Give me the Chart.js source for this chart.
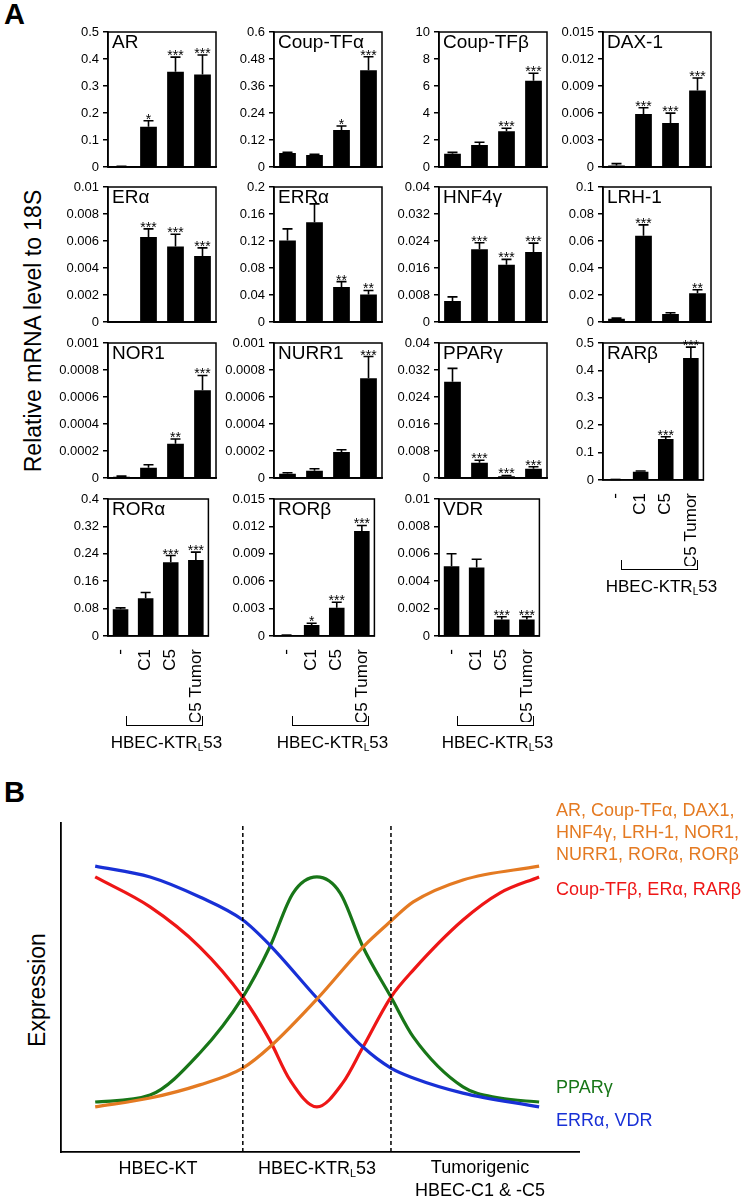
<!DOCTYPE html>
<html>
<head>
<meta charset="utf-8">
<script src="https://cdn.jsdelivr.net/npm/chart.js@4.4.0/dist/chart.umd.min.js"></script>
<style>
  body { margin: 0; width: 756px; height: 1200px; position: relative; background: #fff; overflow: hidden;
         font-family: 'Liberation Sans', Arial, sans-serif; color: #000; }
  canvas { position: absolute; }
  .t { position: absolute; white-space: nowrap; line-height: 1; }
  .rot { transform: translate(-50%, -50%) rotate(-90deg); }
  .mid { transform: translate(-50%, -50%); }
  .br { position: absolute; border: 1.5px solid #000; border-top: none; box-sizing: border-box; }
  sub { font-size: 0.6em; vertical-align: -0.3em; line-height: 0; }
  .panel { position: absolute; font-weight: bold; font-size: 29px; }
</style>
</head>
<body>

<div class="panel" style="left:4px;top:-2px">A</div>
<div class="panel" style="left:4px;top:776px">B</div>
<div class="t rot" style="left:33px;top:331px;font-size:23px">Relative mRNA level to 18S</div>

<script>
// SETUP BLOCK - panel A, mean and top of error bar for each group

const groups = ['-', 'C1', 'C5', 'C5 Tumor'];
const genes = ['AR', 'Coup-TFα', 'Coup-TFβ', 'DAX-1', 'ERα', 'ERRα', 'HNF4γ', 'LRH-1',
               'NOR1', 'NURR1', 'PPARγ', 'RARβ', 'RORα', 'RORβ', 'VDR'];
const yMax  = [0.5, 0.6, 10, 0.015, 0.01, 0.2, 0.04, 0.1, 0.001, 0.001, 0.04, 0.5, 0.4, 0.015, 0.01];
const yStep = [0.1, 0.12, 2, 0.003, 0.002, 0.04, 0.008, 0.02, 0.0002, 0.0002, 0.008, 0.1, 0.08, 0.003, 0.002];

const AR = [0.002, 0.15, 0.353, 0.343];
const AR_err = [0.003, 0.172, 0.407, 0.415];
const AR_sig = ['', '*', '***', '***'];

const CoupTFa = [0.063, 0.054, 0.165, 0.43];
const CoupTFa_err = [0.066, 0.057, 0.183, 0.49];
const CoupTFa_sig = ['', '', '*', '***'];

const CoupTFb = [1.0, 1.65, 2.65, 6.4];
const CoupTFb_err = [1.1, 1.85, 2.88, 6.95];
const CoupTFb_sig = ['', '', '***', '***'];

const DAX1 = [0.0002, 0.0059, 0.0049, 0.0085];
const DAX1_err = [0.0004, 0.0066, 0.006, 0.0099];
const DAX1_sig = ['', '***', '***', '***'];

const ERa = [0, 0.0063, 0.0056, 0.0049];
const ERa_err = [0, 0.0069, 0.0065, 0.0055];
const ERa_sig = ['', '***', '***', '***'];

const ERRa = [0.121, 0.148, 0.052, 0.041];
const ERRa_err = [0.138, 0.175, 0.06, 0.047];
const ERRa_sig = ['', '', '**', '**'];

const HNF4g = [0.0063, 0.0216, 0.017, 0.0208];
const HNF4g_err = [0.0075, 0.0235, 0.0186, 0.0234];
const HNF4g_sig = ['', '***', '***', '***'];

const LRH1 = [0.0025, 0.064, 0.006, 0.0215];
const LRH1_err = [0.003, 0.072, 0.007, 0.024];
const LRH1_sig = ['', '***', '', '**'];

const NOR1 = [0.00001, 0.000077, 0.000255, 0.00065];
const NOR1_err = [0.000015, 0.0001, 0.00029, 0.00076];
const NOR1_sig = ['', '', '**', '***'];

const NURR1 = [0.000033, 0.000055, 0.000193, 0.00074];
const NURR1_err = [0.00004, 0.00007, 0.00021, 0.0009];
const NURR1_sig = ['', '', '', '***'];

const PPARg = [0.0285, 0.0046, 0.0006, 0.0028];
const PPARg_err = [0.0325, 0.0053, 0.0008, 0.0034];
const PPARg_sig = ['', '***', '***', '***'];

const RARb = [0.002, 0.03, 0.15, 0.445];
const RARb_err = [0.002, 0.033, 0.158, 0.485];
const RARb_sig = ['', '', '***', '***'];

const RORa = [0.078, 0.11, 0.215, 0.222];
const RORa_err = [0.082, 0.127, 0.235, 0.245];
const RORa_sig = ['', '', '***', '***'];

const RORb = [0.0001, 0.0012, 0.0031, 0.0115];
const RORb_err = [0.0001, 0.0014, 0.0037, 0.0121];
const RORb_sig = ['', '*', '***', '***'];

const VDR = [0.0051, 0.005, 0.0012, 0.0012];
const VDR_err = [0.006, 0.0056, 0.0014, 0.0014];
const VDR_sig = ['', '', '***', '***'];

const means = [AR, CoupTFa, CoupTFb, DAX1, ERa, ERRa, HNF4g, LRH1, NOR1, NURR1, PPARg, RARb, RORa, RORb, VDR];
const tops  = [AR_err, CoupTFa_err, CoupTFb_err, DAX1_err, ERa_err, ERRa_err, HNF4g_err, LRH1_err,
               NOR1_err, NURR1_err, PPARg_err, RARb_err, RORa_err, RORb_err, VDR_err];
const sigs  = [AR_sig, CoupTFa_sig, CoupTFb_sig, DAX1_sig, ERa_sig, ERRa_sig, HNF4g_sig, LRH1_sig,
               NOR1_sig, NURR1_sig, PPARg_sig, RARb_sig, RORa_sig, RORb_sig, VDR_sig];

// panel B - schematic expression curves (x: 0-100 along the stages, y: 0-100)
const stageLines = [35.1, 63.7];
const blueX   = [6.6, 17.2, 26.8, 35.1, 40.3, 49.4, 58.3, 63.7, 68.0, 77.6, 92.3];
const blueY   = [86.9, 83.6, 77.5, 70.5, 62.9, 46.8, 31.9, 25.5, 22.5, 17.9, 13.7];
const orangeX = [6.6, 17.2, 26.8, 35.1, 40.3, 49.6, 58.3, 63.7, 68.0, 77.6, 92.3];
const orangeY = [13.7, 16.4, 20.4, 25.5, 31.9, 46.8, 62.3, 70.2, 76.0, 82.7, 86.9];
const redX    = [6.6, 17.2, 26.8, 35.1, 40.3, 44.2, 49.4, 54.4, 58.3, 63.7, 68.0, 77.6, 84.7, 92.3];
const redY    = [83.6, 74.5, 62.3, 47.1, 34.0, 21.9, 13.7, 21.0, 31.9, 47.1, 55.3, 70.5, 78.7, 83.6];
const greenX  = [6.6, 17.2, 26.8, 35.1, 40.3, 44.8, 49.4, 53.9, 58.3, 63.7, 68.0, 77.6, 84.7, 92.3];
const greenY  = [15.2, 17.3, 30.1, 47.1, 62.3, 78.7, 83.6, 78.7, 62.3, 47.1, 35.0, 19.8, 16.4, 15.2];

const FONT = "'Liberation Sans', Arial, sans-serif";

// layout of the small multiples
const colLeft = [108, 274, 439, 603];
const rowTop = [32, 187, 343, 499];
const PW = 108, PH = 137, YW = 56, PADT = 12;
const labelled = [11, 12, 13, 14];

// box, title, error bars and stars
const barExtras = {
  id: 'barExtras',
  afterDatasetsDraw(chart) {
    const { ctx, chartArea: a, scales: { y } } = chart;
    const ds = chart.data.datasets[0];
    const meta = chart.getDatasetMeta(0);
    ctx.save();
    ctx.strokeStyle = '#000';
    ctx.fillStyle = '#000';
    ctx.lineWidth = 1.5;
    ctx.strokeRect(a.left, a.top, a.right - a.left, a.bottom - a.top);

    ctx.lineWidth = 1.6;
    meta.data.forEach((bar, k) => {
      const yt = y.getPixelForValue(ds.err[k]);
      if (ds.err[k] > 0) {
        ctx.beginPath();
        ctx.moveTo(bar.x, bar.y);
        ctx.lineTo(bar.x, yt);
        ctx.moveTo(bar.x - 5, yt);
        ctx.lineTo(bar.x + 5, yt);
        ctx.stroke();
      }
      if (ds.sig[k]) {
        ctx.font = '14px ' + FONT;
        ctx.textAlign = 'center';
        ctx.textBaseline = 'alphabetic';
        ctx.fillText(ds.sig[k], bar.x, yt + 3);
      }
    });

    ctx.font = '19px ' + FONT;
    ctx.textAlign = 'left';
    ctx.textBaseline = 'top';
    ctx.fillText(ds.label, a.left + 4, a.top + 1);
    ctx.restore();
  }
};

function addBarChart(i) {
  const col = i % 4, row = Math.floor(i / 4);
  const hasLabels = labelled.includes(i);
  const xh = hasLabels ? 86 : 0;
  const cv = document.createElement('canvas');
  const w = YW + PW + 6, h = PADT + PH + xh + 10;
  cv.width = w; cv.height = h;
  cv.style.left = (colLeft[col] - YW) + 'px';
  cv.style.top = (rowTop[row] - PADT) + 'px';
  cv.style.width = w + 'px'; cv.style.height = h + 'px';
  document.body.appendChild(cv);

  new Chart(cv, {
    type: 'bar',
    data: {
      labels: groups,
      datasets: [{
        label: genes[i],
        data: means[i],
        err: tops[i],
        sig: sigs[i],
        backgroundColor: '#000',
        borderWidth: 0,
        categoryPercentage: 1,
        barPercentage: 0.62
      }]
    },
    options: {
      responsive: false,
      animation: false,
      layout: { padding: { top: PADT, right: 6, bottom: 10, left: 0 } },
      plugins: { legend: { display: false }, tooltip: { enabled: false } },
      scales: {
        x: {
          grid: { display: false },
          border: { color: '#000', width: 1.5 },
          ticks: { display: hasLabels, color: '#000', font: { size: 17, family: FONT },
                   minRotation: 90, maxRotation: 90, autoSkip: false, padding: 5 },
          afterFit: s => { s.height = xh; }
        },
        y: {
          min: 0, max: yMax[i],
          ticks: { stepSize: yStep[i], color: '#000', font: { size: 13, family: FONT }, padding: 4,
                   callback: v => String(parseFloat(v.toFixed(6))) },
          grid: { drawOnChartArea: false, drawTicks: true, tickLength: 5, color: '#000', lineWidth: 1.5 },
          border: { color: '#000', width: 1.5 },
          afterFit: s => { s.width = YW; }
        }
      }
    },
    plugins: [barExtras]
  });

  if (hasLabels) {
    // bracket under the rotated labels + cell line name
    const left = colLeft[col] + 18, right = colLeft[col] + 95;
    const by = rowTop[row] + PH + 89;
    const b = document.createElement('div');
    b.className = 'br';
    b.style.left = left + 'px'; b.style.top = (by - 9) + 'px';
    b.style.width = (right - left) + 'px'; b.style.height = '10px';
    document.body.appendChild(b);
    const t = document.createElement('div');
    t.className = 't mid';
    t.style.left = ((left + right) / 2 + 2) + 'px';
    t.style.top = (by + 17) + 'px';
    t.style.fontSize = '17px';
    t.innerHTML = 'HBEC-KTR<sub>L</sub>53';
    document.body.appendChild(t);
  }
}

for (let i = 0; i < genes.length; i++) addBarChart(i);

// PANEL B
const pts = (xs, ys) => xs.map((x, k) => ({ x, y: ys[k] }));
const cvB = document.createElement('canvas');
cvB.width = 538; cvB.height = 349;
cvB.style.left = '51px'; cvB.style.top = '813px';
cvB.style.width = '538px'; cvB.style.height = '349px';
document.body.appendChild(cvB);

const curve = (data, color) => ({ data, borderColor: color, borderWidth: 3.2, pointRadius: 0,
                                   cubicInterpolationMode: 'monotone', fill: false });
const dash = x => ({ data: [{ x, y: 0 }, { x, y: 100 }], borderColor: '#000', borderWidth: 1.5,
                     borderDash: [4, 3], pointRadius: 0, tension: 0 });

new Chart(cvB, {
  type: 'line',
  data: {
    datasets: [
      dash(stageLines[0]), dash(stageLines[1]),
      curve(pts(orangeX, orangeY), 'rgb(228, 122, 34)'),
      curve(pts(blueX, blueY), 'rgb(24, 48, 214)'),
      curve(pts(redX, redY), 'rgb(238, 22, 22)'),
      curve(pts(greenX, greenY), 'rgb(24, 118, 24)')
    ]
  },
  options: {
    responsive: false,
    animation: false,
    layout: { padding: 10 },
    plugins: { legend: { display: false }, tooltip: { enabled: false } },
    scales: {
      x: { type: 'linear', min: 0, max: 100, grid: { display: false }, ticks: { display: false },
           border: { color: '#000', width: 1.8 }, afterFit: s => { s.height = 0; } },
      y: { min: 0, max: 100, grid: { display: false }, ticks: { display: false },
           border: { color: '#000', width: 1.8 }, afterFit: s => { s.width = 0; } }
    }
  }
});
</script>

<div class="t rot" style="left:37px;top:990px;font-size:23px">Expression</div>
<div class="t mid" style="left:158px;top:1168px;font-size:18px">HBEC-KT</div>
<div class="t mid" style="left:317px;top:1168px;font-size:18px">HBEC-KTR<sub>L</sub>53</div>
<div class="t mid" style="left:480px;top:1167px;font-size:18px">Tumorigenic</div>
<div class="t mid" style="left:480px;top:1190px;font-size:18px">HBEC-C1 &amp; -C5</div>

<div class="t" style="left:556px;top:799px;font-size:18px;line-height:22px;color:rgb(228,122,34)">AR, Coup-TFα, DAX1,<br>HNF4γ, LRH-1, NOR1,<br>NURR1, RORα, RORβ</div>
<div class="t" style="left:556px;top:880px;font-size:18px;color:rgb(238,22,22)">Coup-TFβ, ERα, RARβ</div>
<div class="t" style="left:556px;top:1078px;font-size:18px;color:rgb(24,118,24)">PPARγ</div>
<div class="t" style="left:556px;top:1111px;font-size:18px;color:rgb(24,48,214)">ERRα, VDR</div>

</body>
</html>
